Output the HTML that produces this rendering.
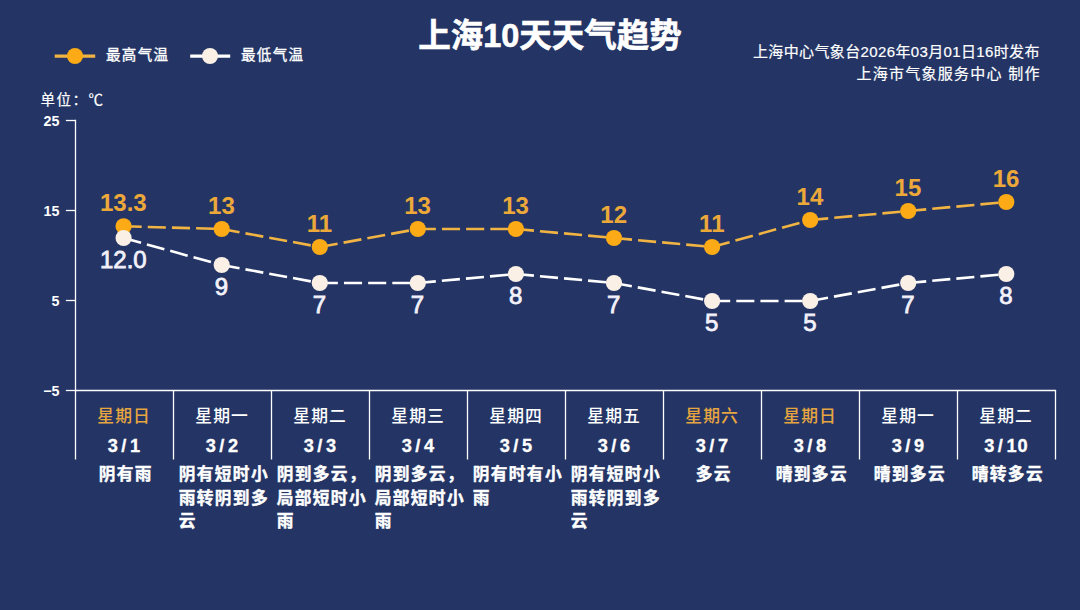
<!DOCTYPE html>
<html lang="zh-CN">
<head>
<meta charset="utf-8">
<title>上海10天天气趋势</title>
<style>
html,body{margin:0;padding:0;background:#243565;}
body{width:1080px;height:610px;overflow:hidden;font-family:"Liberation Sans",sans-serif;}
svg{display:block;font-family:"Liberation Sans","Noto Sans CJK SC",sans-serif;}
.ttl{font-size:32.5px;font-weight:bold;fill:#fff;stroke:#fff;stroke-width:0.6;text-anchor:middle;}
.lg{font-size:14.5px;fill:#fff;stroke:#fff;stroke-width:0.35;letter-spacing:1.4px;}
.hd{font-size:15px;fill:#fff;stroke:#fff;stroke-width:0.2;}
.ax{font-size:14.3px;font-weight:bold;fill:#fff;text-anchor:end;}
.hi{font-size:24px;font-weight:bold;fill:#eca93a;text-anchor:middle;}
.lo{font-size:24px;fill:#f3f1fa;stroke:#f3f1fa;stroke-width:0.8;text-anchor:middle;}
.wk{font-size:16.8px;font-weight:500;fill:#ffffff;letter-spacing:1.1px;}
.wko{font-size:16.8px;font-weight:500;fill:#e7a540;letter-spacing:1.1px;}
.dt{font-size:18.2px;font-weight:bold;fill:#fff;stroke:#fff;stroke-width:0.3;letter-spacing:3.6px;}
.ds{font-size:16.7px;font-weight:bold;fill:#fff;stroke:#fff;stroke-width:0.4;letter-spacing:1.35px;}
</style>
</head>
<body>
<svg width="1080" height="610" viewBox="0 0 1080 610" role="img" aria-label="上海10天天气趋势">
<rect width="1080" height="610" fill="#243565"/>
<text class="ttl" x="550" y="46.5">上海10天天气趋势</text>
<line x1="54.7" y1="56.2" x2="95.2" y2="56.2" stroke="#f1b443" stroke-width="3.2"/>
<circle cx="75" cy="56" r="8" fill="#fcab16"/>
<text class="lg" x="105.9" y="60.4">最高气温</text>
<line x1="190.2" y1="56.2" x2="230.2" y2="56.2" stroke="#ffffff" stroke-width="3.2"/>
<circle cx="210" cy="56" r="8" fill="#fbf0e6"/>
<text class="lg" x="240.9" y="60.4">最低气温</text>
<text class="hd" x="753" y="56.7" textLength="286.5" lengthAdjust="spacing">上海中心气象台2026年03月01日16时发布</text>
<text class="hd" x="856.5" y="78.5" textLength="183" lengthAdjust="spacing">上海市气象服务中心 制作</text>
<text x="40.45" y="105.2" font-size="14.5" fill="#fff" stroke="#fff" stroke-width="0.2" letter-spacing="1.5">单位：℃</text>
<path d="M75.5 119.85 V459.5" stroke="#ffffff" stroke-width="1.3" fill="none"/>
<path d="M75 390.5 H1056.1" stroke="#ffffff" stroke-width="1.3" fill="none"/>
<path d="M173.5 390 V459.5" stroke="#ffffff" stroke-width="1.3" fill="none"/>
<path d="M271.5 390 V459.5" stroke="#ffffff" stroke-width="1.3" fill="none"/>
<path d="M369.5 390 V459.5" stroke="#ffffff" stroke-width="1.3" fill="none"/>
<path d="M467.5 390 V459.5" stroke="#ffffff" stroke-width="1.3" fill="none"/>
<path d="M565.5 390 V459.5" stroke="#ffffff" stroke-width="1.3" fill="none"/>
<path d="M663.5 390 V459.5" stroke="#ffffff" stroke-width="1.3" fill="none"/>
<path d="M761.5 390 V459.5" stroke="#ffffff" stroke-width="1.3" fill="none"/>
<path d="M859.5 390 V459.5" stroke="#ffffff" stroke-width="1.3" fill="none"/>
<path d="M957.5 390 V459.5" stroke="#ffffff" stroke-width="1.3" fill="none"/>
<path d="M1055.5 390 V459.5" stroke="#ffffff" stroke-width="1.3" fill="none"/>
<path d="M65.9 120.5 H75.5" stroke="#ffffff" stroke-width="1.3" fill="none"/>
<text class="ax" x="59.5" y="125.6">25</text>
<path d="M65.9 210.5 H75.5" stroke="#ffffff" stroke-width="1.3" fill="none"/>
<text class="ax" x="59.5" y="215.6">15</text>
<path d="M65.9 300.5 H75.5" stroke="#ffffff" stroke-width="1.3" fill="none"/>
<text class="ax" x="59.5" y="305.6">5</text>
<path d="M65.9 390.5 H75.5" stroke="#ffffff" stroke-width="1.3" fill="none"/>
<text class="ax" x="59.5" y="395.6">−5</text>
<path d="M123.6 226.3L221.7 229.0M221.7 229.0L319.8 247.0M319.8 247.0L417.8 229.0M417.8 229.0L515.9 229.0M515.9 229.0L614.0 238.0M614.0 238.0L712.1 247.0M712.1 247.0L810.2 220.0M810.2 220.0L908.2 211.0M908.2 211.0L1006.3 202.0" fill="none" stroke="#f1b443" stroke-width="2.6" stroke-dasharray="18.1 6.07"/>
<circle cx="123.6" cy="226.3" r="8.1" fill="#fcab16"/>
<circle cx="221.7" cy="229.0" r="8.1" fill="#fcab16"/>
<circle cx="319.8" cy="247.0" r="8.1" fill="#fcab16"/>
<circle cx="417.8" cy="229.0" r="8.1" fill="#fcab16"/>
<circle cx="515.9" cy="229.0" r="8.1" fill="#fcab16"/>
<circle cx="614.0" cy="238.0" r="8.1" fill="#fcab16"/>
<circle cx="712.1" cy="247.0" r="8.1" fill="#fcab16"/>
<circle cx="810.2" cy="220.0" r="8.1" fill="#fcab16"/>
<circle cx="908.2" cy="211.0" r="8.1" fill="#fcab16"/>
<circle cx="1006.3" cy="202.0" r="8.1" fill="#fcab16"/>
<path d="M123.6 238.0L221.7 265.0M221.7 265.0L319.8 283.0M319.8 283.0L417.8 283.0M417.8 283.0L515.9 274.0M515.9 274.0L614.0 283.0M614.0 283.0L712.1 301.0M712.1 301.0L810.2 301.0M810.2 301.0L908.2 283.0M908.2 283.0L1006.3 274.0" fill="none" stroke="#ffffff" stroke-width="2.6" stroke-dasharray="18.1 6.07"/>
<circle cx="123.6" cy="238.0" r="8.1" fill="#fbf0e6"/>
<circle cx="221.7" cy="265.0" r="8.1" fill="#fbf0e6"/>
<circle cx="319.8" cy="283.0" r="8.1" fill="#fbf0e6"/>
<circle cx="417.8" cy="283.0" r="8.1" fill="#fbf0e6"/>
<circle cx="515.9" cy="274.0" r="8.1" fill="#fbf0e6"/>
<circle cx="614.0" cy="283.0" r="8.1" fill="#fbf0e6"/>
<circle cx="712.1" cy="301.0" r="8.1" fill="#fbf0e6"/>
<circle cx="810.2" cy="301.0" r="8.1" fill="#fbf0e6"/>
<circle cx="908.2" cy="283.0" r="8.1" fill="#fbf0e6"/>
<circle cx="1006.3" cy="274.0" r="8.1" fill="#fbf0e6"/>
<text class="hi" x="123.3" y="210.9">13.3</text>
<text class="hi" x="221.4" y="213.6">13</text>
<text class="hi" x="319.5" y="231.6">11</text>
<text class="hi" x="417.5" y="213.6">13</text>
<text class="hi" x="515.6" y="213.6">13</text>
<text class="hi" x="613.7" y="222.6">12</text>
<text class="hi" x="711.8" y="231.6">11</text>
<text class="hi" x="809.9" y="204.6">14</text>
<text class="hi" x="907.9" y="195.6">15</text>
<text class="hi" x="1006.0" y="186.6">16</text>
<text class="lo" x="123.3" y="267.7">12.0</text>
<text class="lo" x="221.4" y="294.7">9</text>
<text class="lo" x="319.5" y="312.7">7</text>
<text class="lo" x="417.5" y="312.7">7</text>
<text class="lo" x="515.6" y="303.7">8</text>
<text class="lo" x="613.7" y="312.7">7</text>
<text class="lo" x="711.8" y="330.7">5</text>
<text class="lo" x="809.9" y="330.7">5</text>
<text class="lo" x="907.9" y="312.7">7</text>
<text class="lo" x="1006.0" y="303.7">8</text>
<text class="wko" x="97.3" y="421.9">星期日</text>
<text class="dt" x="107.64" y="451.5">3/1</text>
<text class="ds" x="98.8" y="480.4">阴有雨</text>
<text class="wk" x="195.3" y="421.9">星期一</text>
<text class="dt" x="205.64" y="451.5">3/2</text>
<text class="ds" x="178.75" y="480.4">阴有短时小</text>
<text class="ds" x="178.75" y="503.5">雨转阴到多</text>
<text class="ds" x="178.75" y="526.6">云</text>
<text class="wk" x="293.3" y="421.9">星期二</text>
<text class="dt" x="303.64" y="451.5">3/3</text>
<text class="ds" x="276.75" y="480.4">阴到多云，</text>
<text class="ds" x="276.75" y="503.5">局部短时小</text>
<text class="ds" x="276.75" y="526.6">雨</text>
<text class="wk" x="391.3" y="421.9">星期三</text>
<text class="dt" x="401.64" y="451.5">3/4</text>
<text class="ds" x="374.75" y="480.4">阴到多云，</text>
<text class="ds" x="374.75" y="503.5">局部短时小</text>
<text class="ds" x="374.75" y="526.6">雨</text>
<text class="wk" x="489.3" y="421.9">星期四</text>
<text class="dt" x="499.64" y="451.5">3/5</text>
<text class="ds" x="472.75" y="480.4">阴有时有小</text>
<text class="ds" x="472.75" y="503.5">雨</text>
<text class="wk" x="587.3" y="421.9">星期五</text>
<text class="dt" x="597.64" y="451.5">3/6</text>
<text class="ds" x="570.75" y="480.4">阴有短时小</text>
<text class="ds" x="570.75" y="503.5">雨转阴到多</text>
<text class="ds" x="570.75" y="526.6">云</text>
<text class="wko" x="685.3" y="421.9">星期六</text>
<text class="dt" x="695.64" y="451.5">3/7</text>
<text class="ds" x="695.83" y="480.4">多云</text>
<text class="wko" x="783.3" y="421.9">星期日</text>
<text class="dt" x="793.64" y="451.5">3/8</text>
<text class="ds" x="775.77" y="480.4">晴到多云</text>
<text class="wk" x="881.3" y="421.9">星期一</text>
<text class="dt" x="891.64" y="451.5">3/9</text>
<text class="ds" x="873.77" y="480.4">晴到多云</text>
<text class="wk" x="979.3" y="421.9">星期二</text>
<text class="dt" x="984.14" y="451.5"><tspan letter-spacing="3.6">3/</tspan><tspan letter-spacing="0.9">10</tspan></text>
<text class="ds" x="971.77" y="480.4">晴转多云</text>
</svg>
</body>
</html>
